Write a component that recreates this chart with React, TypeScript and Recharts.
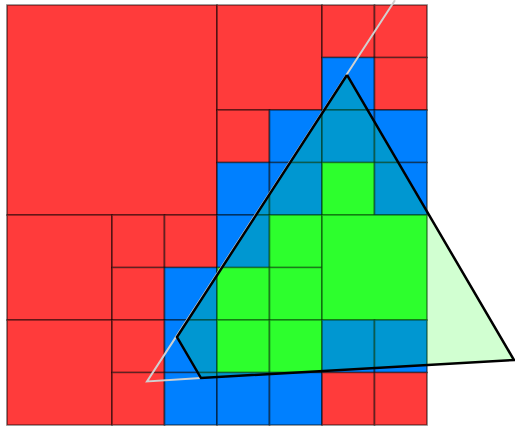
import React from "react";
import {
  ComposedChart,
  XAxis,
  YAxis,
  ReferenceArea,
  Scatter,
} from "recharts";

// quadtree leaves, in grid units (8 x 8), row 0 at the top
const cellCols = [0, 4, 6, 7, 6, 7, 4, 5, 4, 5, 6, 7, 6, 7, 0, 2, 3, 2, 3, 0, 2, 3, 2, 3, 4, 5, 4, 5, 6, 4, 5, 4, 5, 6, 7, 6, 7];
const cellRows = [0, 0, 0, 0, 1, 1, 2, 2, 3, 3, 2, 2, 3, 3, 4, 4, 4, 5, 5, 6, 6, 6, 7, 7, 4, 4, 5, 5, 4, 6, 6, 7, 7, 6, 6, 7, 7];
const cellSizes = [4, 2, 1, 1, 1, 1, 1, 1, 1, 1, 1, 1, 1, 1, 2, 1, 1, 1, 1, 2, 1, 1, 1, 1, 1, 1, 1, 1, 2, 1, 1, 1, 1, 1, 1, 1, 1];
// o = outside, b = boundary, i = inside
const cellKinds = ["o", "o", "o", "o", "b", "o", "o", "b", "b", "b", "b", "b", "i", "b", "o", "o", "o", "o", "b", "o", "o", "b", "o", "b", "b", "i", "i", "i", "i", "i", "i", "b", "b", "b", "b", "o", "o"];

// clipped polygon (black) and the original triangle edge (grey)
const polyX = [6.476, 9.657, 3.695, 3.238, 6.476];
const polyY = [1.333, 6.762, 7.105, 6.324, 1.333];
const ghostX = [3.695, 2.667, 7.39];
const ghostY = [7.105, 7.171, -0.09];

const kindColor: Record<string, string> = {
  o: "#ff3b3b",
  b: "#0080ff",
  i: "#38ff38",
};

const CELL = 52.5;
const X_DOMAIN: [number, number] = [-7 / CELL, 508 / CELL];
const Y_DOMAIN: [number, number] = [-5 / CELL, 421 / CELL];

const cells = cellCols.map((c, i) => ({
  x1: c,
  x2: c + cellSizes[i],
  y1: cellRows[i],
  y2: cellRows[i] + cellSizes[i],
  fill: kindColor[cellKinds[i]],
}));

const polygon = polyX.map((x, i) => ({ x, y: polyY[i] }));
const ghost = ghostX.map((x, i) => ({ x, y: ghostY[i] }));

const NoDot = () => <g />;

export default function App() {
  return (
    <div>
      <style>{`body{margin:0}`}</style>
      <ComposedChart
        width={515}
        height={426}
        margin={{ top: 0, right: 0, bottom: 0, left: 0 }}
      >
        <XAxis
          type="number"
          dataKey="x"
          domain={X_DOMAIN}
          allowDataOverflow
          hide
        />
        <YAxis
          type="number"
          dataKey="y"
          domain={Y_DOMAIN}
          allowDataOverflow
          reversed
          hide
        />
        {cells.map((c, i) => (
          <ReferenceArea
            key={`cell-${i}`}
            x1={c.x1}
            x2={c.x2}
            y1={c.y1}
            y2={c.y2}
            fill={c.fill}
            fillOpacity={1}
            stroke="rgba(0,0,0,0.5)"
            strokeWidth={1.7}
            ifOverflow="visible"
          />
        ))}
        <Scatter
          data={ghost}
          isAnimationActive={false}
          shape={NoDot}
          fill="#cccccc"
          line={{ stroke: "#d0d0d0", strokeWidth: 2, fill: "none" }}
          lineType="joint"
        />
        <Scatter
          data={polygon}
          isAnimationActive={false}
          shape={NoDot}
          fill="#000"
          line={{
            stroke: "#000",
            strokeWidth: 2.5,
            fill: "rgba(0,255,0,0.18)",
            strokeLinejoin: "miter",
          }}
          lineType="joint"
        />
      </ComposedChart>
    </div>
  );
}
